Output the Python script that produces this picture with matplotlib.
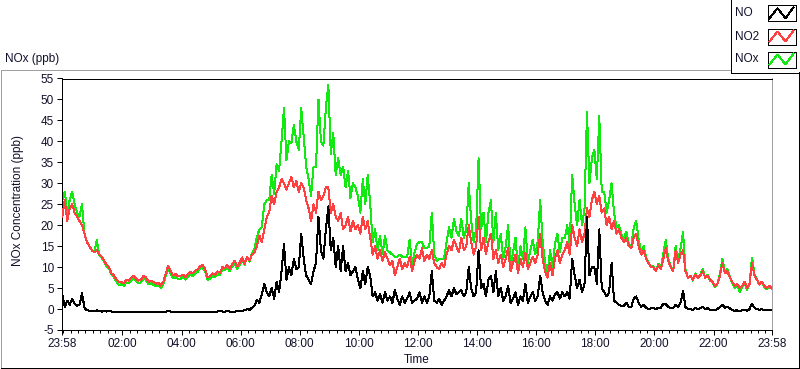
import numpy as np
import matplotlib
matplotlib.use("Agg")
import matplotlib.pyplot as plt
from matplotlib.lines import Line2D

plt.rcParams['font.family'] = ['Liberation Sans', 'DejaVu Sans']

# ---- data (5-minute samples from 23:58 to 23:58 next day) ----
no2 = [
    22, 26, 21, 24, 25, 23, 22, 21, 20, 18, 16, 15,
    14, 13.5, 14, 13, 12.5, 11.5, 10.5, 10, 8.5, 8, 7, 6.5,
    6.5, 6.2, 7, 6.8, 7.5, 8, 7.2, 6.8, 7, 8, 7.5, 6.5,
    6.8, 6.5, 6, 6.3, 5.6, 6.5, 8.5, 10.3, 9, 8, 8.3, 7.8,
    7.8, 8.2, 7.6, 8.3, 8.8, 8.5, 9.2, 9.5, 10.3, 10.5, 9.5, 7.5,
    7.8, 8.5, 8.2, 9, 8.7, 10, 9.8, 10.5, 9.6, 10.8, 11.5, 10.2,
    11, 12.3, 10.8, 12.5, 11.5, 13, 13.5, 15, 17.5, 16, 19, 22,
    23, 27, 25, 28, 29, 31, 30, 28.5, 30, 31.5, 29, 30.5,
    28, 30, 29, 26, 24, 21, 25, 23, 28, 26, 27, 29,
    29, 23, 25, 22, 21, 23, 19, 20, 22, 18.5, 21, 19,
    20, 18, 22, 19, 21, 17, 13, 15, 12, 14, 11.5, 13.5,
    12, 10.5, 11.5, 8, 10, 12, 9.5, 11, 10, 12.5, 9, 11.5,
    13, 12, 14.5, 11.5, 13, 12, 14, 11, 10, 9.5, 11, 10,
    13, 15, 14, 16.5, 15, 13.5, 17, 14, 15, 20, 16, 13,
    15, 22, 14, 17, 13, 16, 18, 12, 14, 11, 13, 10,
    12, 14.5, 9, 11, 13, 8.5, 12, 10, 13.5, 9.5, 11, 12.5,
    11, 13, 18, 12, 9, 7.5, 11, 8, 12, 14, 11, 13,
    14, 16, 13, 20, 17, 15, 19, 16, 18, 24, 22, 26,
    28, 25, 27, 23, 24, 20, 22, 19, 21, 18, 19, 17,
    16, 17, 15, 14.5, 17, 18, 15, 13, 14, 12, 11, 10,
    10, 9, 10.5, 9.5, 12, 14.5, 11.5, 10, 9, 14, 11, 13,
    14, 9, 7.5, 8, 7, 8.2, 7.5, 8, 9, 7.5, 8, 7,
    6.5, 5.5, 6, 8, 11, 8.5, 9, 7.5, 6.5, 5.5, 6, 5,
    5.5, 6.5, 5, 6, 11, 8, 7, 6, 6.5, 5.5, 5, 5.5,
    5,
]

no = [
    3.5, 0.5, 2.0, 1.0, 2.5, 1.2, 0.8, 1.0, 3.8, 0.3, -0.3, -0.4,
    -0.4, -0.5, -0.3, -0.5, -0.6, -0.5, -0.6, -0.5, -0.6, -0.6, -0.6, -0.6,
    -0.6, -0.6, -0.7, -0.6, -0.6, -0.6, -0.6, -0.6, -0.6, -0.6, -0.6, -0.6,
    -0.6, -0.6, -0.6, -0.6, -0.6, -0.6, -0.6, -0.5, -0.6, -0.6, -0.6, -0.6,
    -0.6, -0.6, -0.6, -0.6, -0.6, -0.6, -0.6, -0.6, -0.6, -0.6, -0.6, -0.6,
    -0.6, -0.6, -0.6, -0.6, -0.5, -0.6, -0.6, -0.5, -0.6, -0.6, -0.6, -0.5,
    -0.5, -0.4, -0.3, 0, -0.2, 0.3, 0.8, 2.2, 1.5, 3.5, 6, 4,
    3, 5, 2.5, 6.5, 4, 9, 15.5, 7, 10, 8, 12, 9.5,
    10, 18, 12, 8, 7, 6, 9, 11, 22, 14, 12, 19,
    24.5, 14, 17, 10, 15, 9, 15, 9, 11, 8, 9, 10,
    7, 5, 9, 6, 10, 8, 3, 4, 2, 3.5, 1.5, 4,
    2, 3, 1.5, 4.5, 2.5, 1, 3, 1.5, 2.5, 4, 1.5, 2,
    2.5, 4, 1.5, 3, 1.5, 3, 9, 2, 1.5, 2.5, 1, 2,
    3, 4.5, 3, 5, 3.5, 4, 4.5, 3, 4, 10, 5, 3,
    4, 14, 5, 6, 3, 7, 8, 4, 9, 3, 5, 2,
    3, 5.5, 1.5, 2.5, 4, 1, 3, 2, 6, 1.5, 3, 4,
    2, 3, 8, 4, 2, 1, 3, 2, 3.5, 4, 2.5, 4,
    3, 4, 2.5, 12, 8, 5, 7, 4, 6, 22, 8, 10,
    10, 6, 19, 5, 4, 3, 4, 11, 2, 1.5, 1, 0.8,
    0.8, 1.5, 0.5, 0.5, 2.5, 3, 1.5, 0.5, 1, 0.3, 0, 0.2,
    0.2, 0, 0.3, 0.3, 1.3, 1.2, 0.5, 0.2, 0.2, 1, 0.5, 1.5,
    4.4, 0.5, 0, 0, -0.2, 0.3, 0, 0.2, 0.5, 0, 0.2, -0.2,
    -0.2, -0.3, 0, 0.5, 1, 0.3, 0.5, 0.2, -0.3, -0.4, -0.3, -0.5,
    -0.3, -0.2, -0.4, 0, 1.3, 0.3, 0, -0.2, 0, -0.3, -0.3, -0.2,
    -0.2,
]

nox = [
    26, 28, 23, 26, 28, 25, 23, 22, 25, 18, 16, 15,
    14, 13.5, 16.5, 12.8, 12.3, 11.2, 10.2, 9.6, 8.2, 7.6, 6.5, 5.8,
    5.9, 5.6, 6.3, 6.2, 6.9, 7.4, 6.6, 6.2, 6.4, 7.4, 6.9, 5.9,
    6.2, 5.8, 5.4, 5.7, 5, 5.9, 7.9, 9.8, 8.4, 7.4, 7.6, 7.2,
    7.2, 7.6, 7, 7.7, 8.2, 7.9, 8.6, 8.9, 9.7, 9.9, 8.9, 6.9,
    7.2, 7.9, 7.6, 8.4, 8.1, 9.4, 9.2, 9.9, 9.0, 10.2, 10.9, 9.6,
    10.5, 11.9, 10.5, 12.5, 11.3, 13.3, 14.3, 17.2, 19, 19.5, 25, 26,
    26, 32, 27.5, 34.5, 33, 40, 48, 35.5, 40, 39.5, 44, 40,
    38, 48, 41, 34, 31, 27, 34, 34, 50, 40, 39, 48,
    53.5, 37, 42, 32, 36, 32, 34, 29, 33, 26.5, 30, 29,
    27, 23, 31, 25, 32, 25, 16, 19, 14, 17.5, 13, 17.5,
    14, 13.5, 13, 12.5, 12.5, 13, 12.5, 12.5, 12.5, 16.5, 10.5, 13.5,
    15.5, 16, 16, 14.5, 14.5, 15, 23, 13, 11.5, 12, 12, 12,
    16, 19.5, 17, 21.5, 18.5, 17.5, 21.5, 17, 19, 30, 21, 16,
    19, 36, 19, 23, 16, 23, 26, 16, 23, 14, 18, 12,
    15, 20, 10.5, 13.5, 17, 9.5, 15, 12, 19.5, 11, 14, 16.5,
    13, 16, 26, 16, 11, 8.5, 14, 10, 15.5, 18, 13.5, 17,
    17, 20, 15.5, 32, 25, 20, 26, 20, 24, 47, 30, 36,
    38, 31, 46, 28, 28, 23, 26, 30, 23, 19.5, 20, 17.8,
    16.8, 18.5, 15.5, 15, 19.5, 21, 16.5, 13.5, 15, 12.3, 11, 10.2,
    10.2, 9, 10.8, 9.8, 13.3, 16.5, 12, 10.2, 9.2, 15, 11.5, 14.5,
    18.3, 9.5, 7.5, 8, 6.8, 8.5, 7.5, 8.2, 9.5, 7.5, 8.2, 6.8,
    6.3, 5.2, 6, 8.5, 12, 8.8, 9.5, 7.7, 6.2, 5.1, 5.7, 4,
    5.2, 6.3, 4.6, 6, 12.3, 8.3, 7, 5.8, 6.5, 5.2, 4.7, 5.3,
    4.8,
]

sample_step_min = 5
minutes = np.arange(len(no2)) * sample_step_min

xtick_pos = [0, 122, 242, 362, 482, 602, 722, 842, 962, 1082, 1202, 1322, 1440]
xtick_labels = ["23:58", "02:00", "04:00", "06:00", "08:00", "10:00", "12:00",
                "14:00", "16:00", "18:00", "20:00", "22:00", "23:58"]
yticks = [-5, 0, 5, 10, 15, 20, 25, 30, 35, 40, 45, 50, 55]

series_names = ["NO", "NO2", "NOx"]
series_colors = ["#000000", "#ff4040", "#12e812"]

# ---- figure ----
W, H = 800, 369
PX = 0.72  # one pixel in points
fig = plt.figure(figsize=(W / 100, H / 100), dpi=100)
fig.patch.set_facecolor("white")

def fx(x):
    return x / W

def fy(y):
    return 1 - y / H

left, right, top, bottom = 62.3, 771.7, 78.5, 330.0
ax = fig.add_axes([fx(left), fy(bottom), fx(right) - fx(left), fy(top) - fy(bottom)])
ax.set_facecolor("white")

ax.plot(minutes, nox, color=series_colors[2], lw=PX, antialiased=False, zorder=2)
ax.plot(minutes, no2, color=series_colors[1], lw=PX, antialiased=False, zorder=3)
ax.plot(minutes, no, color=series_colors[0], lw=PX, antialiased=False, zorder=4)

ax.set_xlim(0, 1440)
ax.set_ylim(-5, 55)
ax.set_xticks(xtick_pos)
ax.set_xticklabels(xtick_labels)
ax.set_xticks(np.arange(2, 1440, 15), minor=True)
ax.set_yticks(yticks)
ax.set_yticklabels([str(v) for v in yticks])

txtc = "#10102a"
ax.tick_params(axis="both", which="major", direction="out", length=3.6, width=PX,
               colors="black", labelcolor=txtc, labelsize=8.5, pad=2.5)
ax.tick_params(axis="x", which="minor", direction="out", length=2.2, width=PX, colors="black")

for s in ["top", "left", "bottom"]:
    ax.spines[s].set_color("black")
    ax.spines[s].set_linewidth(PX)
ax.spines["right"].set_color("#a0a0a0")
ax.spines["right"].set_linewidth(PX)

fig.text(fx(18), fy(200), "NOx Concentration (ppb)", rotation=90, ha="center", va="center",
         fontsize=8.5, color=txtc)
fig.text(fx(417), fy(360), "Time", ha="center", va="center", fontsize=8.5, color=txtc)
fig.text(fx(5), fy(59), "NOx (ppb)", ha="left", va="center", fontsize=8.5, color=txtc)

# outer panel frame
def fline(xs, ys, color, lw=PX):
    fig.add_artist(Line2D([fx(v) for v in xs], [fy(v) for v in ys], color=color, lw=lw,
                          antialiased=False, transform=fig.transFigure))

fline([0.5, 730], [69.5, 69.5], "#a0a0a0")
fline([0.8, 0.8], [69.5, 367.5], "#a0a0a0")
fline([0.5, 799], [367.5, 367.5], "black")
fline([798.5, 798.5], [72, 368], "black")

# legend panel
fline([730.5, 730.5], [0, 72.5], "black")
fline([730.5, 799], [72.5, 72.5], "black")
leg_y = [13.3, 36.5, 59.5]
for name, col, yc in zip(series_names, series_colors, leg_y):
    fig.text(fx(735), fy(yc), name, ha="left", va="center", fontsize=8.5, color=txtc)
    bx0, bx1, by0, by1 = 767.5, 795.5, yc - 8, yc + 8
    fline([bx0, bx1, bx1, bx0, bx0], [by0, by0, by1, by1, by0], "black")
    fline([769.5, 777.5, 785.5, 793.5], [yc + 5, yc - 5, yc + 5, yc - 6], col)

fig.savefig("out.png", dpi=100, facecolor="white")
